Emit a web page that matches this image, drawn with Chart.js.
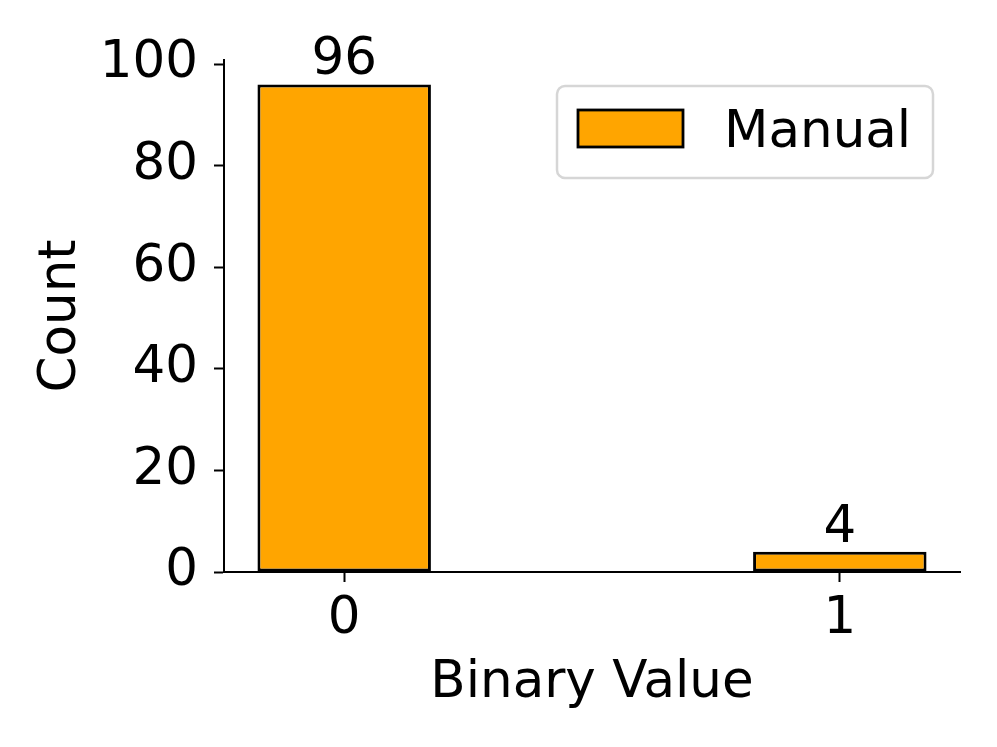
<!DOCTYPE html>
<html>
<head>
<meta charset="utf-8">
<title>Binary Value counts</title>
<script src="https://cdn.jsdelivr.net/npm/chart.js@4.4.1/dist/chart.umd.min.js"></script>
<style>
    html, body { margin: 0; padding: 0; background: #ffffff; }
    #wrap { width: 997px; height: 747px; }
</style>
</head>
<body>
<div id="wrap"><canvas id="chart" width="997" height="747"></canvas></div>
<script>
'use strict';

// ── Data ──────────────────────────────────────────────────
const binaryValues = [0, 1];
const manualCounts = [96, 4];
const seriesLabel = 'Manual';
const xTickValues = [0, 1];
const yTickValues = [0, 20, 40, 60, 80, 100];

// ── Style ─────────────────────────────────────────────────
const FONT = "'DejaVu Sans', sans-serif";
const FONT_SIZE = 51.5;
const BAR_COLOR = '#ffa500';
const EDGE = '#000000';

// bar width 0.35 in data units, matplotlib-ish 5% margins
const BAR_WIDTH = 0.35;
const xMin = -BAR_WIDTH / 2 - 0.0675;
const xMax = 1 + BAR_WIDTH / 2 + 0.0675;
const yMax = Math.max(...manualCounts) * 1.05;

// ── Plugins ───────────────────────────────────────────────
const barLabels = {
    id: 'barLabels',
    afterDatasetsDraw(chart) {
        const ctx = chart.ctx;
        const meta = chart.getDatasetMeta(0);
        ctx.save();
        ctx.fillStyle = '#000';
        ctx.font = `${FONT_SIZE}px ${FONT}`;
        ctx.textAlign = 'center';
        ctx.textBaseline = 'alphabetic';
        meta.data.forEach((bar, i) => {
            ctx.fillText(String(manualCounts[i]), bar.x, bar.y - 10);
        });
        ctx.restore();
    },
};

const legendBox = {
    id: 'legendBox',
    afterDraw(chart) {
        const ctx = chart.ctx;
        const ds = chart.data.datasets[0];
        ctx.save();
        // frame
        ctx.beginPath();
        ctx.roundRect(557, 86, 376, 92, 8);
        ctx.fillStyle = 'rgba(255,255,255,0.8)';
        ctx.fill();
        ctx.lineWidth = 2.5;
        ctx.strokeStyle = '#d6d6d6';
        ctx.stroke();
        // handle
        ctx.fillStyle = ds.backgroundColor;
        ctx.fillRect(578, 110, 105, 37);
        ctx.lineWidth = 2.8;
        ctx.strokeStyle = ds.borderColor;
        ctx.strokeRect(578, 110, 105, 37);
        // text
        ctx.fillStyle = '#000';
        ctx.font = `${FONT_SIZE}px ${FONT}`;
        ctx.textAlign = 'left';
        ctx.textBaseline = 'alphabetic';
        ctx.fillText(ds.label, 724, 147);
        ctx.restore();
    },
};

// ── Chart ─────────────────────────────────────────────────
new Chart(document.getElementById('chart'), {
    type: 'bar',
    data: {
        datasets: [{
            label: seriesLabel,
            data: binaryValues.map((x, i) => ({ x, y: manualCounts[i] })),
            backgroundColor: BAR_COLOR,
            borderColor: EDGE,
            borderWidth: 3,
            borderSkipped: false,
            categoryPercentage: 1,
            barPercentage: BAR_WIDTH,
        }],
    },
    options: {
        responsive: false,
        animation: false,
        layout: { padding: { left: 0, top: 60, right: 37, bottom: 0 } },
        plugins: {
            legend: { display: false },
            tooltip: { enabled: false },
        },
        scales: {
            x: {
                type: 'linear',
                min: xMin,
                max: xMax,
                offset: false,
                afterBuildTicks: s => { s.ticks = xTickValues.map(v => ({ value: v })); },
                afterFit: s => { s.height = 175; },
                grid: {
                    offset: false,
                    drawOnChartArea: false,
                    drawTicks: true,
                    tickLength: 10,
                    tickWidth: 2,
                    tickColor: '#000',
                },
                border: { display: true, color: '#000', width: 2 },
                ticks: {
                    color: '#000',
                    font: { family: FONT, size: FONT_SIZE },
                    padding: 7,
                    maxRotation: 0,
                    callback: v => String(v),
                },
                title: {
                    display: true,
                    text: 'Binary Value',
                    color: '#000',
                    font: { family: FONT, size: FONT_SIZE },
                    padding: { top: 0, bottom: 32 },
                },
            },
            y: {
                min: 0,
                max: yMax,
                afterBuildTicks: s => { s.ticks = yTickValues.map(v => ({ value: v })); },
                afterFit: s => { s.width = 224; },
                grid: {
                    drawOnChartArea: false,
                    drawTicks: true,
                    tickLength: 10,
                    tickWidth: 2,
                    tickColor: '#000',
                },
                border: { display: true, color: '#000', width: 2 },
                ticks: {
                    color: '#000',
                    font: { family: FONT, size: FONT_SIZE },
                    padding: 16,
                    callback: v => String(v),
                },
                title: {
                    display: true,
                    text: 'Count',
                    color: '#000',
                    font: { family: FONT, size: FONT_SIZE },
                    padding: { top: 31, bottom: 0 },
                },
            },
        },
    },
    plugins: [barLabels, legendBox],
});
</script>
</body>
</html>
